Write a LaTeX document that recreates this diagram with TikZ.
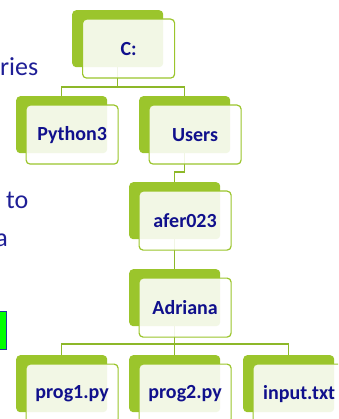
\documentclass[tikz,border=0pt]{standalone}
\usepackage{fontspec}
\setmainfont{Carlito}
\definecolor{leaf}{HTML}{9BC52C}
\definecolor{leafline}{HTML}{8DB829}
\definecolor{navy}{HTML}{10108C}
\definecolor{bodytxt}{HTML}{1E1E96}
\definecolor{brightgreen}{HTML}{00FF00}
\definecolor{boxedge}{HTML}{1F3A99}
\begin{document}
\begin{tikzpicture}[x=1pt,y=-1pt,
  backbox/.style={fill=leaf, rounded corners=4pt, minimum width=91pt, minimum height=57pt, inner sep=0pt, anchor=north west},
  frontbox/.style={draw=leaf, line width=1.2pt, fill=white, fill opacity=0.88, text opacity=1, rounded corners=4pt, minimum width=92pt, minimum height=59pt, inner sep=0pt, anchor=north west, font=\bfseries\fontsize{20}{24}\selectfont, text=navy},
  link/.style={draw=leafline, line width=1.2pt},
  side/.style={font=\fontsize{26}{30}\selectfont, text=bodytxt, anchor=base east, inner sep=0pt}]
\useasboundingbox (0,0) rectangle (338,419);
\clip (0,0) rectangle (338,419);
% left slide text fragments
\node[side] (t1) at (38.5,76) {ries};
\node[side] (t2) at (28.5,208) {to};
\node[side] (t3) at (8,246) {a};
\node[draw=boxedge, line width=1.2pt, fill=brightgreen, anchor=north east, minimum width=30pt, minimum height=38pt, inner sep=0pt] (gb) at (7,311) {};
% back rectangles
\node[backbox] (c)  at (72,10) {};
\node[backbox] (py) at (16,96) {};
\node[backbox] (us) at (139,96) {};
\node[backbox] (af) at (129,182) {};
\node[backbox] (ad) at (129,269) {};
\node[backbox] (p1) at (16,355) {};
\node[backbox] (p2) at (129,355) {};
\node[backbox] (in) at (243,355) {};
% connectors
\coordinate (b1) at (0,87);
\coordinate (b2) at (0,172);
\coordinate (b3) at (0,344);
\draw[link] (c.south) -- (c.south |- b1) -| (py.north);
\draw[link] (c.south |- b1) -| (us.north);
\draw[link] (us.south) -- (us.south |- b2) -| (af.north);
\draw[link] (af.south) -- (ad.north);
\draw[link] (ad.south) -- (ad.south |- b3) -| (p1.north);
\draw[link] (ad.south |- b3) -- (p2.north);
\draw[link] (ad.south |- b3) -| (in.north);
% front rectangles with labels
\node[frontbox] (cf)  at (82,18.5) {C:};
\node[frontbox] (pyf) at (25.5,104.5) {Python3};
\node[frontbox] (usf) at (148.5,104.5) {Users};
\node[frontbox] (aff) at (138.5,190.5) {afer023};
\node[frontbox] (adf) at (138.5,277.5) {Adriana};
\node[frontbox] (p1f) at (25.5,363.5) {prog1.py};
\node[frontbox] (p2f) at (138.5,363.5) {prog2.py};
\node[frontbox] (inf) at (252.5,363.5) {input.txt};
\end{tikzpicture}
\end{document}
